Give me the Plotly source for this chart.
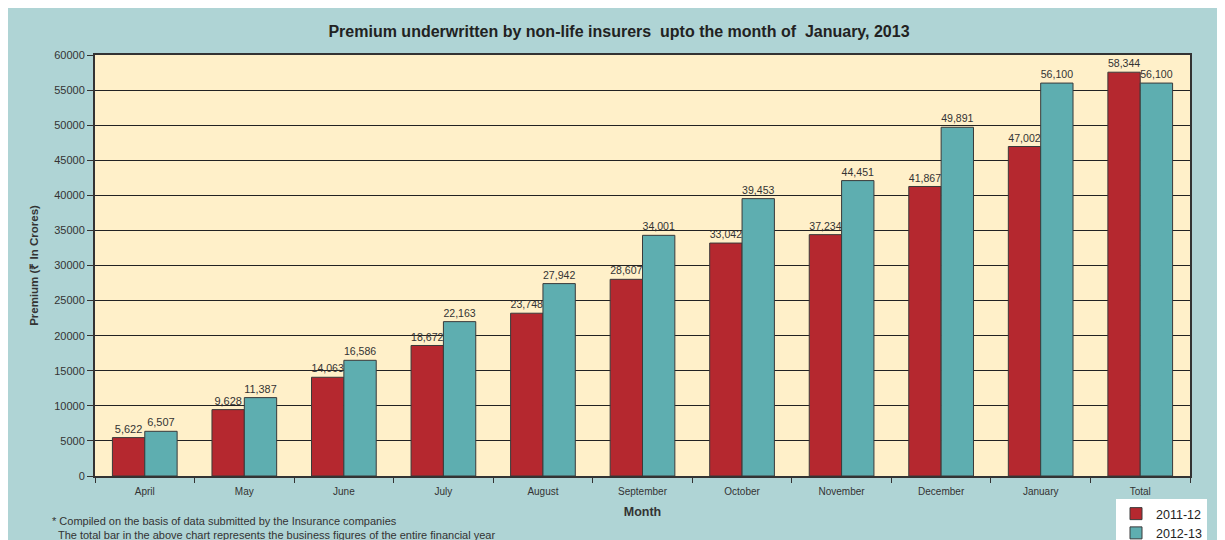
import plotly.graph_objects as go

months = ["April", "May", "June", "July", "August", "September", "October",
          "November", "December", "January", "Total"]
bars_2011_12 = [5470, 9460, 14070, 18600, 23200, 28030, 33200, 34400, 41260, 46960, 57550]
bars_2012_13 = [6370, 11170, 16490, 22000, 27420, 34300, 39530, 42100, 49700, 56000, 56000]
labels_2011_12 = ["5,622", "9,628", "14,063", "18,672", "23,748", "28,607", "33,042",
                  "37,234", "41,867", "47,002", "58,344"]
labels_2012_13 = ["6,507", "11,387", "16,586", "22,163", "27,942", "34,001", "39,453",
                  "44,451", "49,891", "56,100", "56,100"]
series_names = ["2011-12", "2012-13"]
y_ticks = list(range(0, 60001, 5000))

W, H = 1225, 540
OFF = 8  # page body margin
L, R, T, B = 95 - OFF, 1190 - OFF, 55 - OFF, 476 - OFF
FONT = "Liberation Sans, Arial, sans-serif"
BG = "#afd4d5"
PLOT_BG = "#fff0c9"
RED = "#b5282f"
TEAL = "#5eaeb0"


def cx(p):
    return (p - OFF) / W


def cy(p):
    return 1 - (p - OFF) / H


fig = go.Figure()
for name, vals, labs, col in [(series_names[0], bars_2011_12, labels_2011_12, RED),
                              (series_names[1], bars_2012_13, labels_2012_13, TEAL)]:
    fig.add_trace(go.Bar(
        x=months, y=vals, name=name, text=labs, textposition="outside",
        textfont=dict(size=11, color="#333333", family=FONT),
        marker=dict(color=col, line=dict(color="#3a3a3a", width=1)),
        cliponaxis=False,
    ))

fig.update_layout(
    width=W, height=H,
    margin=dict(l=L, r=W - R, t=T, b=H - B, pad=0, autoexpand=False),
    paper_bgcolor=BG, plot_bgcolor=PLOT_BG,
    font=dict(family=FONT, color="#333333"),
    barmode="group", bargap=0.35, bargroupgap=0,
    title=dict(text="<b>Premium underwritten by non-life insurers  upto the month of  January, 2013</b>",
               x=cx(619), xanchor="center", y=cy(31), yanchor="middle",
               font=dict(size=16, color="#222222", family=FONT)),
    legend=dict(xref="container", yref="container", x=cx(1116), y=cy(499),
                xanchor="left", yanchor="top",
                bgcolor="white", font=dict(size=12.5, color="#222222", family=FONT),
                tracegroupgap=0, itemwidth=30),
    showlegend=True,
)

fig.update_yaxes(
    range=[0, 60000], tickvals=y_ticks, tickformat="d", showgrid=True,
    gridcolor="#222222", gridwidth=1,
    showline=True, linecolor="#333333", linewidth=2, mirror=True,
    ticks="outside", ticklen=6, tickcolor="#333333", tickfont=dict(size=11, color="#333333"),
    title=dict(text="<b>Premium (₹ In Crores)</b>", font=dict(size=11.5, color="#333333"), standoff=13),
    zeroline=False,
)
fig.update_xaxes(
    showline=True, linecolor="#333333", linewidth=2, mirror=True,
    ticks="outside", tickson="boundaries", ticklen=5, tickcolor="#333333",
    ticklabelstandoff=5,
    tickfont=dict(size=10, color="#333333"),
    title=dict(text="<b>Month</b>", font=dict(size=12.5, color="#333333"), standoff=11),
)

fig.add_annotation(text="* Compiled on the basis of data submitted by the Insurance companies",
                   xref="paper", yref="paper", x=(50 - 95) / (R - L), y=(476 - 521) / (B - T),
                   xanchor="left", yanchor="middle", showarrow=False,
                   font=dict(size=11, color="#333333"))
fig.add_annotation(text="  The total bar in the above chart represents the business figures of the entire financial year",
                   xref="paper", yref="paper", x=(50 - 95) / (R - L), y=(476 - 535) / (B - T),
                   xanchor="left", yanchor="middle", showarrow=False,
                   font=dict(size=11, color="#333333"))

fig.write_html("out.html")
